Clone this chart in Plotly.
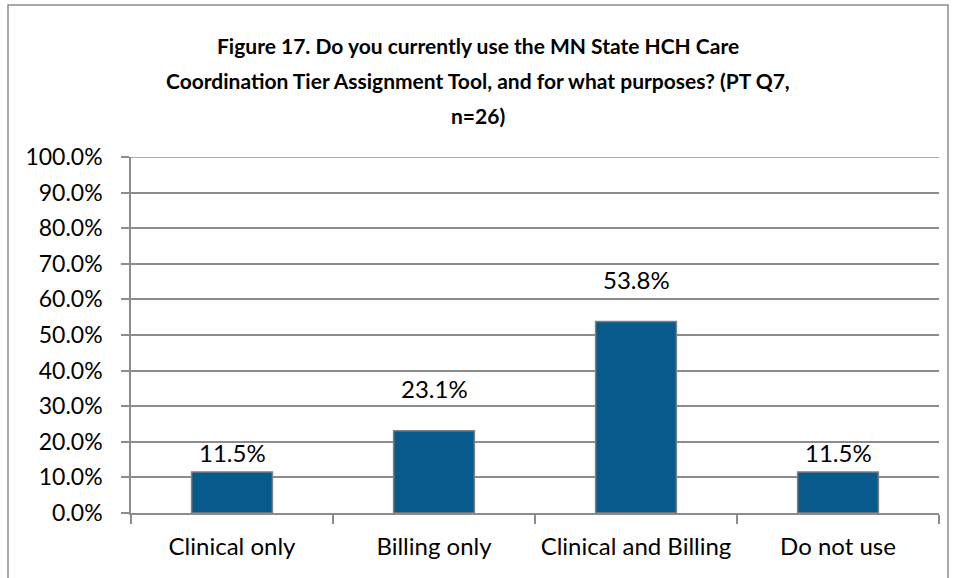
import plotly.graph_objects as go

# Survey responses (PT Q7, n=26)
categories = ["Clinical only", "Billing only", "Clinical and Billing", "Do not use"]
percent_values = [11.5, 23.1, 53.8, 11.5]
y_tick_values = [0, 10, 20, 30, 40, 50, 60, 70, 80, 90, 100]
y_tick_labels = ["0.0%", "10.0%", "20.0%", "30.0%", "40.0%", "50.0%",
                 "60.0%", "70.0%", "80.0%", "90.0%", "100.0%"]
title_lines = [
    "Figure 17. Do you currently use the MN State HCH Care",
    "Coordination Tier Assignment Tool, and for what purposes? (PT Q7,",
    "n=26)",
]

FONT = "Lato"
BAR_COLOR = "#065a8c"
GRID = "#8c8c8c"

# figure geometry in pixels
W, H = 956, 578
L, R, T, B = 131, 17, 157, 65
plot_w = W - L - R
plot_h = H - T - B

fig = go.Figure()
fig.add_trace(go.Bar(
    x=categories,
    y=percent_values,
    marker=dict(color=BAR_COLOR, line=dict(color="#808080", width=1.5)),
    width=0.4,
    hoverinfo="skip",
))

# value labels above each bar (pixel lift per label)
label_lift = [20, 42, 42, 20]
for cat, val, lift in zip(categories, percent_values, label_lift):
    fig.add_annotation(
        x=cat, y=val, text=f"{val:.1f}%", showarrow=False,
        yanchor="middle", yshift=lift,
        font=dict(family=FONT, size=24, color="#000000"),
    )


def px_x(px):
    return (px - L) / plot_w


def px_y(py):
    return (H - B - py) / plot_h


# three-line bold title
title_centers = [46, 81, 115]
for line, py in zip(title_lines, title_centers):
    fig.add_annotation(
        xref="paper", yref="paper",
        x=px_x(W / 2), y=px_y(py),
        text=f"<b>{line}</b>", showarrow=False,
        xanchor="center", yanchor="middle",
        font=dict(family=FONT, size=21, color="#000000"),
    )

# outer chart border
fig.add_shape(
    type="rect", xref="paper", yref="paper",
    x0=px_x(8), x1=px_x(948), y0=px_y(600), y1=px_y(5),
    line=dict(color="#8c8c8c", width=1.5), fillcolor="rgba(0,0,0,0)",
    layer="below",
)

# gridline at the top of the value axis
fig.add_shape(
    type="line", xref="paper", yref="y",
    x0=0, x1=1, y0=y_tick_values[-1], y1=y_tick_values[-1],
    line=dict(color=GRID, width=1.5), layer="below",
)

fig.update_layout(
    width=W, height=H,
    margin=dict(l=L, r=R, t=T, b=B, pad=0),
    paper_bgcolor="white", plot_bgcolor="white",
    showlegend=False,
    font=dict(family=FONT, size=23, color="#000000"),
    bargap=0.6,
)
fig.update_yaxes(
    range=[0, 100], tickvals=y_tick_values, ticktext=y_tick_labels,
    showgrid=True, gridcolor=GRID, gridwidth=1.5,
    showline=True, linecolor=GRID, linewidth=1.5,
    ticks="outside", ticklen=8, tickcolor=GRID, tickwidth=1.5,
    ticklabelstandoff=14, zeroline=False,
    tickfont=dict(family=FONT, size=23),
)
fig.update_xaxes(
    showline=True, linecolor=GRID, linewidth=1.5,
    ticks="outside", ticklen=9, tickcolor=GRID, tickwidth=1.5,
    tickson="boundaries", showgrid=False,
    ticklabelstandoff=11,
    tickfont=dict(family=FONT, size=24),
)

fig.write_html("out.html")
